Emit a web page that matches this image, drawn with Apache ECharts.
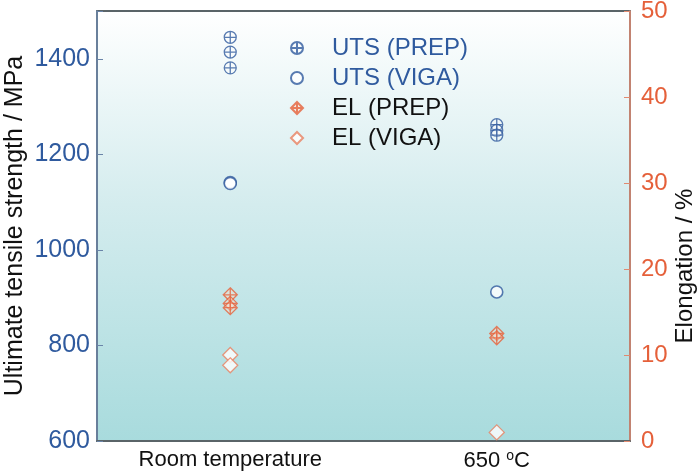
<!DOCTYPE html>
<html>
<head>
<meta charset="utf-8">
<script src="https://cdn.jsdelivr.net/npm/echarts@6/dist/echarts.min.js"></script>
<style>
  html, body { margin: 0; padding: 0; background: #fff; }
  #main { width: 700px; height: 475px; }
</style>
</head>
<body>
<div id="main"></div>
<script>
var myChart = echarts.init(document.getElementById('main'));

// categories on the x axis
var categories = ['Room temperature', '650 °C'];

// ultimate tensile strength (MPa), left axis
var utsPrepRT = [1445, 1414, 1381];
var utsPrep650 = [1262, 1250, 1240];
var utsVigaRT = [1141, 1139];
var utsViga650 = [912];

// elongation (%), right axis
var elPrepRT = [17.0, 16.0, 15.5];
var elPrep650 = [12.5, 12.0];
var elVigaRT = [10.0, 8.8];
var elViga650 = [1.0];

var blue = '#2f5a9e';
var orange = '#e5603a';

var circleCross = 'path://M0,10 A10,10 0 1,1 20,10 A10,10 0 1,1 0,10 Z M10,0 L10,20 M0,10 L20,10';
var diamondCross = 'path://M10,0 L20,10 L10,20 L0,10 Z M10,0 L10,20 M0,10 L20,10';

var toPoints = function (rt, hot) {
    var res = [];
    for (var i = 0; i < rt.length; i++) res.push([categories[0], rt[i]]);
    for (var j = 0; j < hot.length; j++) res.push([categories[1], hot[j]]);
    return res;
};

var font = 'Arial, "Liberation Sans", sans-serif';

option = {
    animation: false,
    textStyle: { fontFamily: font },
    grid: {
        left: 97,
        right: 70,
        top: 11,
        bottom: 34,
        outerBoundsMode: 'none',
        containLabel: false,
        show: true,
        borderColor: '#5a6468',
        borderWidth: 1.8,
        backgroundColor: new echarts.graphic.LinearGradient(0, 0, 0, 1, [
            { offset: 0, color: '#ffffff' },
            { offset: 0.45, color: '#d4ecee' },
            { offset: 1, color: '#a8dbdd' }
        ])
    },
    legend: {
        orient: 'vertical',
        left: 285,
        top: 31,
        itemGap: 6,
        itemWidth: 12,
        itemHeight: 12,
        textStyle: { fontSize: 24, fontFamily: font, padding: [0, 0, 0, 24] },
        data: [
            { name: 'UTS (PREP)', textStyle: { color: blue } },
            { name: 'UTS (VIGA)', textStyle: { color: blue } },
            { name: 'EL (PREP)', textStyle: { color: '#111' } },
            { name: 'EL (VIGA)', textStyle: { color: '#111' } }
        ]
    },
    xAxis: {
        type: 'category',
        data: categories,
        boundaryGap: true,
        axisLine: { lineStyle: { color: '#5a6468', width: 1.8 } },
        axisTick: { alignWithLabel: true, inside: true, length: 6, lineStyle: { color: '#333' } },
        axisLabel: {
            color: '#111',
            fontSize: 22,
            margin: 8,
            formatter: function (v) {
                return v === '650 °C' ? '650 {sup|o}C' : v;
            },
            rich: {
                sup: { fontSize: 14, verticalAlign: 'top', padding: [0, 0, 10, 0], color: '#111' }
            }
        },
        splitLine: { show: false }
    },
    yAxis: [
        {
            type: 'value',
            min: 600,
            max: 1500,
            interval: 200,
            position: 'left',
            name: 'Ultimate tensile strength / MPa',
            nameLocation: 'middle',
            nameMoveOverlap: false,
            nameGap: 69,
            nameTextStyle: { color: '#111', fontSize: 25 },
            axisLine: { show: true, lineStyle: { color: '#6a84a8', width: 1.5 } },
            axisTick: { show: true, inside: true, length: 6, lineStyle: { color: '#6a84a8' } },
            axisLabel: {
                color: blue,
                fontSize: 25,
                margin: 7,
                formatter: function (v) { return v % 200 === 0 ? v : ''; }
            },
            splitLine: { show: false }
        },
        {
            type: 'value',
            min: 0,
            max: 50,
            interval: 10,
            position: 'right',
            name: 'Elongation / %',
            nameLocation: 'middle',
            nameRotate: 90,
            nameMoveOverlap: false,
            nameGap: 43,
            nameTextStyle: { color: '#111', fontSize: 24, padding: [0, 80, 0, 0] },
            axisLine: { show: true, lineStyle: { color: '#e08a70', width: 1.5 } },
            axisTick: { show: true, inside: true, length: 6, lineStyle: { color: '#e08a70' } },
            axisLabel: { color: orange, fontSize: 24, margin: 11 },
            splitLine: { show: false }
        }
    ],
    series: [
        {
            name: 'UTS (PREP)',
            type: 'scatter',
            yAxisIndex: 0,
            symbol: circleCross,
            symbolSize: 12,
            itemStyle: { color: 'rgba(255,255,255,0.4)', borderColor: blue, borderWidth: 1.3 },
            data: toPoints(utsPrepRT, utsPrep650)
        },
        {
            name: 'UTS (VIGA)',
            type: 'scatter',
            yAxisIndex: 0,
            symbol: 'circle',
            symbolSize: 12,
            itemStyle: { color: '#ffffff', borderColor: blue, borderWidth: 1.6 },
            data: toPoints(utsVigaRT, utsViga650)
        },
        {
            name: 'EL (PREP)',
            type: 'scatter',
            yAxisIndex: 1,
            symbol: diamondCross,
            symbolSize: 14,
            itemStyle: { color: 'rgba(255,220,200,0.5)', borderColor: orange, borderWidth: 1.3 },
            data: toPoints(elPrepRT, elPrep650)
        },
        {
            name: 'EL (VIGA)',
            type: 'scatter',
            yAxisIndex: 1,
            symbol: 'diamond',
            symbolSize: 15,
            itemStyle: { color: '#ffffff', borderColor: '#e8805f', borderWidth: 1.3 },
            data: toPoints(elVigaRT, elViga650)
        }
    ]
};

myChart.setOption(option);
</script>
</body>
</html>
